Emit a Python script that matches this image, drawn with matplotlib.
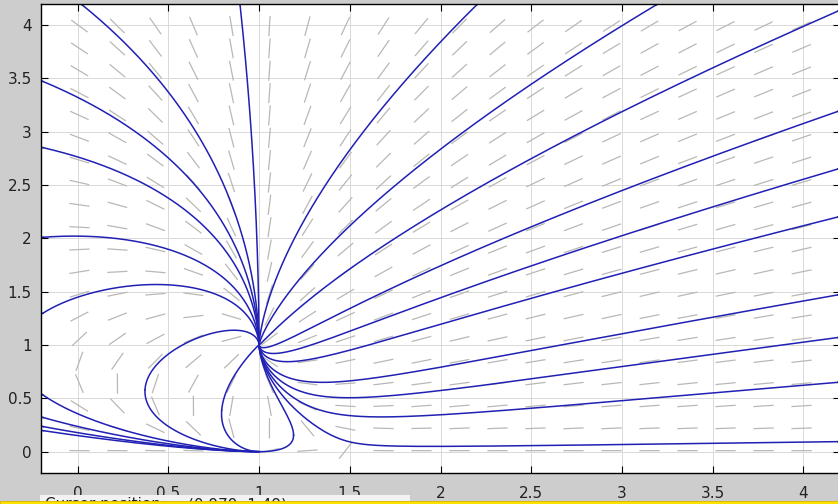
"""
Phase plane of x' = (1-x)(x+2y-1.5), y' = y(2-x-y), pplane style.
"""

import numpy as np
import matplotlib.pyplot as plt
from matplotlib.patches import Rectangle

# system
def field(x, y):
    return (1 - x) * (x + 2 * y - 1.5), y * (2 - x - y)

equilibria = [(1.0, 1.0), (1.0, 0.0), (1.5, 0.0)]

xlim = (-0.2, 4.2)
ylim = (-0.2, 4.2)
ticks = [0, 0.5, 1, 1.5, 2, 2.5, 3, 3.5, 4]
tick_labels = ['0', '0.5', '1', '1.5', '2', '2.5', '3', '3.5', '4']
n_arrows = 20

# initial points of the drawn solutions
start_x = [0.895, 0.024, -0.19, -0.19, -0.19, -0.19, 0.371, 0.794,
           -0.19, -0.19, -0.19, -0.19,
           1.19, 2.20, 3.19, 4.19, 4.19, 4.19, 4.19, 4.19, 4.19, 4.19, 4.19]
start_y = [4.19, 4.19, 3.47, 2.85, 2.01, 1.30, 0.579, 0.391,
           0.53, 0.32, 0.235, 0.197,
           0.155, 4.19, 4.19, 4.13, 3.19, 2.65, 2.20, 1.47, 1.07, 0.65, 0.094]

fig = plt.figure(figsize=(8.38, 5.04), dpi=100, facecolor='#cdcdcd')
ax = fig.add_axes([41.4 / 838, 31 / 504, 798.2 / 838, 469.3 / 504])
ax.set_facecolor('white')
ax.set_xlim(xlim)
ax.set_ylim(ylim)

# pixels per data unit
p0 = ax.transData.transform((0, 0))
p1 = ax.transData.transform((1, 1))
sx, sy = p1[0] - p0[0], p1[1] - p0[1]


def step_dir(x, y, sign):
    u, v = field(x, y)
    pu, pv = u * sx, v * sy
    n = np.hypot(pu, pv)
    if n < 1e-12:
        return 0.0, 0.0
    return sign * pu / n / sx, sign * pv / n / sy


def trace(x0, y0, sign, ds=0.6, nmax=20000):
    xs, ys = [x0], [y0]
    x, y = x0, y0
    for _ in range(nmax):
        k1 = step_dir(x, y, sign)
        k2 = step_dir(x + 0.5 * ds * k1[0], y + 0.5 * ds * k1[1], sign)
        k3 = step_dir(x + 0.5 * ds * k2[0], y + 0.5 * ds * k2[1], sign)
        k4 = step_dir(x + ds * k3[0], y + ds * k3[1], sign)
        x += ds / 6 * (k1[0] + 2 * k2[0] + 2 * k3[0] + k4[0])
        y += ds / 6 * (k1[1] + 2 * k2[1] + 2 * k3[1] + k4[1])
        xs.append(x)
        ys.append(y)
        if x < xlim[0] - 0.02 or x > xlim[1] + 0.02 or y < ylim[0] - 0.02 or y > ylim[1] + 0.02:
            break
        near = False
        for ex, ey in equilibria:
            if np.hypot((x - ex) * sx, (y - ey) * sy) < 0.8:
                near = True
        if near:
            break
    return xs, ys


ax.grid(True, color='#d9d9d9', linewidth=0.7)
ax.set_axisbelow(True)

# direction field
gx = np.linspace(xlim[0], xlim[1], n_arrows + 2)[1:-1]
gy = np.linspace(ylim[0], ylim[1], n_arrows + 2)[1:-1]
seg_x, seg_y = [], []
half = 9.5
for xv in gx:
    for yv in gy:
        u, v = field(xv, yv)
        th = np.arctan2(v * sy, u * sx)
        dx = half * np.cos(th) / sx
        dy = half * np.sin(th) / sy
        seg_x += [xv - dx, xv + dx, np.nan]
        seg_y += [yv - dy, yv + dy, np.nan]
ax.plot(seg_x, seg_y, color='#b8b8b4', linewidth=0.9, zorder=1)

# solution curves
for x0, y0 in zip(start_x, start_y):
    for sign in (1, -1):
        xs, ys = trace(x0, y0, sign)
        ax.plot(xs, ys, color='#2020b4', linewidth=1.1, zorder=2)

ax.set_xticks(ticks)
ax.set_xticklabels(tick_labels)
ax.set_yticks(ticks)
ax.set_yticklabels(tick_labels)
ax.tick_params(direction='in', length=5, width=0.8, top=True, right=True,
               labelsize=11, labelcolor='#222222')
ax.tick_params(axis='x', pad=9.5)
ax.tick_params(axis='y', pad=7)
for sp in ax.spines.values():
    sp.set_color('black')
    sp.set_linewidth(1.0)

# status bar at the bottom of the window
fig.add_artist(Rectangle((40 / 838, 0), 370 / 838, 9 / 504, facecolor='#f2f2f2',
                         edgecolor='none', zorder=4))
fig.text(45 / 838, 7 / 504, 'Cursor position:', fontsize=11, color='#222222',
         va='top', ha='left', zorder=5)
fig.text(188 / 838, 7 / 504, '(0.979, 1.49)', fontsize=11, color='#222222',
         va='top', ha='left', zorder=5)
fig.add_artist(Rectangle((0, 0), 1, 3.4 / 504, facecolor='#ffe100',
                         edgecolor='#e0b400', linewidth=0.6, zorder=6))

plt.savefig('out.png', dpi=100, facecolor=fig.get_facecolor())
